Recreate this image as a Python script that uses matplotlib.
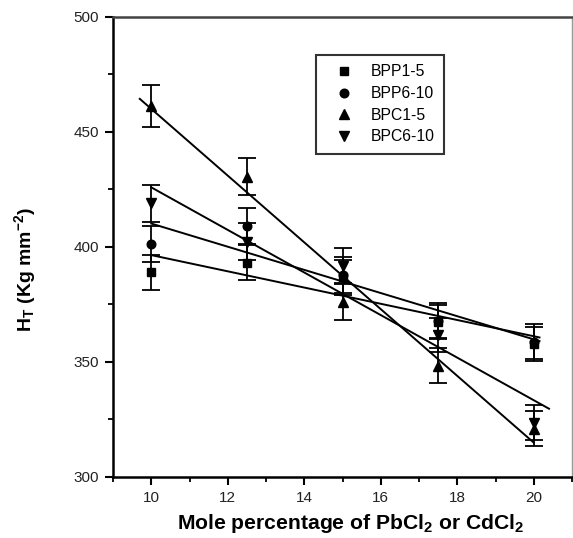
import numpy as np
import matplotlib
matplotlib.use("Agg")
import matplotlib.pyplot as plt
from matplotlib.lines import Line2D

plt.rcParams['font.family'] = ['Liberation Sans', 'DejaVu Sans']
plt.rcParams['mathtext.fontset'] = 'custom'
plt.rcParams['mathtext.default'] = 'bf'
plt.rcParams['mathtext.bf'] = 'Liberation Sans:bold'
plt.rcParams['mathtext.rm'] = 'Liberation Sans'

x = [10, 12.5, 15, 17.5, 20]
series_names = ['BPP1-5', 'BPP6-10', 'BPC1-5', 'BPC6-10']
bpp1_5 = [389.0, 393.2, 386.8, 367.4, 357.8]
bpp6_10 = [401.3, 409.1, 387.8, 368.0, 358.9]
bpc1_5 = [461.3, 430.6, 376.2, 348.4, 321.0]
bpc6_10 = [419.0, 402.3, 391.7, 361.7, 323.6]
err_bpp1_5 = [7.5, 7.5, 7.5, 7.5, 7.5]
err_bpp6_10 = [8, 8, 8, 7.5, 7.5]
err_bpc1_5 = [9, 8, 8, 7.5, 7.5]
err_bpc6_10 = [8, 8, 8, 7.5, 7.5]
fit_start = [10.0, 10.0, 9.7, 10.0]
fit_end = [20.15, 20.15, 20.0, 20.4]

values = [bpp1_5, bpp6_10, bpc1_5, bpc6_10]
errors = [err_bpp1_5, err_bpp6_10, err_bpc1_5, err_bpc6_10]
markers = ['s', 'o', '^', 'v']
msizes = [5.8, 6.2, 7.2, 7.2]

fig = plt.figure(figsize=(5.73, 5.38), dpi=100)
ax = fig.add_axes([113/573, 1 - 477/538, (572 - 113)/573, (477 - 17)/538])

for vals, errs, m, ms, x0, x1 in zip(values, errors, markers, msizes, fit_start, fit_end):
    ax.errorbar(x, vals, yerr=errs, fmt=m, color='black', ms=ms,
                capsize=6.5, capthick=1.3, elinewidth=1.3, zorder=3)
    coef = np.polyfit(x, vals, 1)
    xf = np.array([x0, x1])
    ax.plot(xf, np.polyval(coef, xf), color='black', lw=1.4, zorder=2)

ax.set_xlim(9, 21)
ax.set_ylim(300, 500)
ax.set_xticks([10, 12, 14, 16, 18, 20])
ax.set_xticks(np.arange(9, 22, 1), minor=True)
ax.set_yticks([300, 350, 400, 450, 500])
ax.set_yticks(np.arange(300, 501, 25), minor=True)
ax.tick_params(axis='both', which='major', direction='out', length=6, width=1.5,
               labelsize=11, labelcolor='#222222', top=False, right=False, pad=4)
ax.tick_params(axis='both', which='minor', direction='out', length=3.5, width=1.3,
               top=False, right=False)

for side in ['left', 'bottom']:
    ax.spines[side].set_linewidth(1.8)
ax.spines['top'].set_linewidth(1.8)
ax.spines['top'].set_color('#444444')
ax.spines['right'].set_linewidth(1.0)
ax.spines['right'].set_color('#999999')

ax.set_xlabel('Mole percentage of PbCl$_{2}$ or CdCl$_{2}$', fontsize=15.2,
              fontweight='bold')
ax.xaxis.set_label_coords((351 - 113)/459, (477 - 512)/460)
ax.set_ylabel('H$_{T}$ (Kg mm$^{-2}$)', fontsize=14, fontweight='bold')
ax.yaxis.set_label_coords((38 - 113)/459, (477 - 270)/460)

handles = [Line2D([], [], ls='none', marker=m, color='black', ms=ms)
           for m, ms in zip(markers, msizes)]
leg = ax.legend(handles, series_names, loc='upper left',
                bbox_to_anchor=((316 - 113)/459, (477 - 55)/460),
                fontsize=11.3, frameon=True, fancybox=False, edgecolor='black',
                handlelength=2.4, handletextpad=0.49, borderpad=0.6,
                labelspacing=0.42, borderaxespad=0)
leg.get_frame().set_linewidth(1.5)

fig.savefig('out.png', dpi=100)
